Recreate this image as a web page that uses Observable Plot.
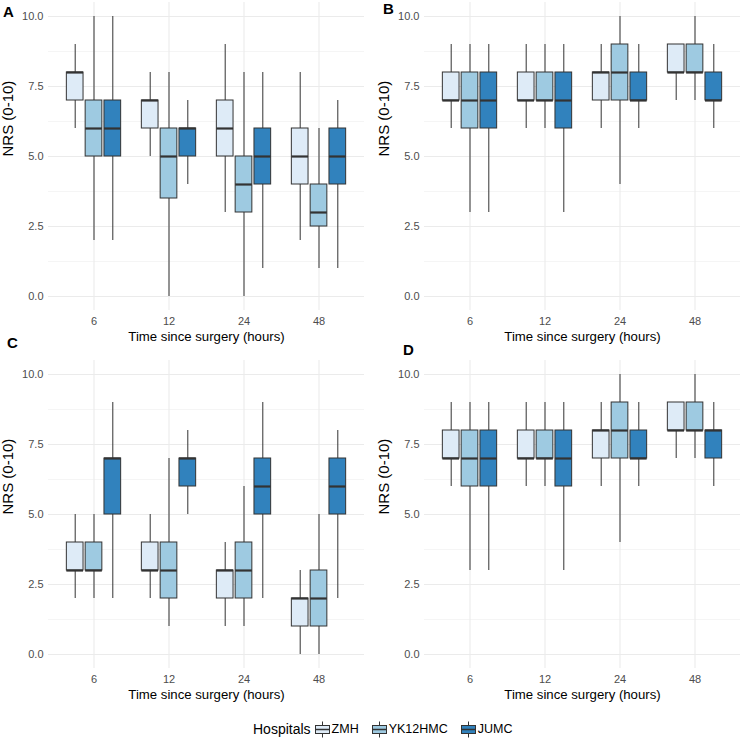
<!DOCTYPE html>
<html><head><meta charset="utf-8">
<script src="https://cdn.jsdelivr.net/npm/d3@7"></script>
<script src="https://cdn.jsdelivr.net/npm/@observablehq/plot@0.6"></script>
<style>
body{margin:0;background:#fff;font-family:"Liberation Sans",Arial,sans-serif;}
#fig{position:relative;width:740px;height:739px;overflow:hidden;background:#fff;}
.panel{position:absolute;}
.tag{position:absolute;font-weight:bold;font-size:15px;line-height:1;color:#000;}
#legend{position:absolute;left:253px;top:720px;height:18px;display:flex;align-items:center;color:#000;}
#legend .ttl{font-size:14px;margin-right:3px;}
#legend .lab{font-size:12.5px;margin-left:1px;margin-right:12px;}
</style></head><body><div id="fig"></div>
<script>
const times = ["6", "12", "24", "48"];
const hospitals = ["ZMH", "YK12HMC", "JUMC"];
const colors = ["#deebf7", "#9ecae1", "#3182bd"];
const yTicks = [0, 2.5, 5, 7.5, 10];
const yMinor = [1.25, 3.75, 6.25, 8.75];
const xTitle = "Time since surgery (hours)";
const yTitle = "NRS (0-10)";
const tags = ["A", "B", "C", "D"];

// five-number summaries [min, q1, median, q3, max], one row per time (6, 12, 24, 48 h)
const A_ZMH  = [[6, 7, 8, 8, 9], [5, 6, 7, 7, 8], [3, 5, 6, 7, 9], [2, 4, 5, 6, 8]];
const A_YK   = [[2, 5, 6, 7, 10], [0, 3.5, 5, 6, 8], [0, 3, 4, 5, 8], [1, 2.5, 3, 4, 6]];
const A_JUMC = [[2, 5, 6, 7, 10], [4, 5, 6, 6, 7], [1, 4, 5, 6, 8], [1, 4, 5, 6, 7]];

const B_ZMH  = [[6, 7, 7, 8, 9], [6, 7, 7, 8, 9], [6, 7, 8, 8, 9], [7, 8, 8, 9, 9]];
const B_YK   = [[3, 6, 7, 8, 9], [6, 7, 7, 8, 9], [4, 7, 8, 9, 10], [7, 8, 8, 9, 10]];
const B_JUMC = [[3, 6, 7, 8, 9], [3, 6, 7, 8, 9], [6, 7, 7, 8, 9], [6, 7, 7, 8, 9]];

const C_ZMH  = [[2, 3, 3, 4, 5], [2, 3, 3, 4, 5], [1, 2, 3, 3, 4], [0, 1, 2, 2, 3]];
const C_YK   = [[2, 3, 3, 4, 5], [1, 2, 3, 4, 7], [1, 2, 3, 4, 6], [0, 1, 2, 3, 5]];
const C_JUMC = [[2, 5, 7, 7, 9], [5, 6, 7, 7, 8], [2, 5, 6, 7, 9], [2, 5, 6, 7, 8]];

const D_ZMH  = [[6, 7, 7, 8, 9], [6, 7, 7, 8, 9], [6, 7, 8, 8, 9], [7, 8, 8, 9, 9]];
const D_YK   = [[3, 6, 7, 8, 9], [6, 7, 7, 8, 9], [4, 7, 8, 9, 10], [7, 8, 8, 9, 10]];
const D_JUMC = [[3, 6, 7, 8, 9], [3, 6, 7, 8, 9], [6, 7, 7, 8, 9], [6, 7, 8, 8, 9]];

const panels = [
  {series: [A_ZMH, A_YK, A_JUMC], left: 0,   top: 0,   ml: 48, mr: 6, tag: [3, 4.3]},
  {series: [B_ZMH, B_YK, B_JUMC], left: 370, top: 0,   ml: 54, mr: 0, tag: [383, 1.3]},
  {series: [C_ZMH, C_YK, C_JUMC], left: 0,   top: 358, ml: 48, mr: 6, tag: [7, 335.3]},
  {series: [D_ZMH, D_YK, D_JUMC], left: 370, top: 358, ml: 54, mr: 0, tag: [403, 342.3]}
];

function rows(stats, hospital) {
  return stats.map((s, i) => ({time: times[i], hospital, min: s[0], q1: s[1], med: s[2], q3: s[3], max: s[4]}));
}

const fig = document.getElementById("fig");
const FONT = '"Liberation Sans", Arial, sans-serif';
const DARK = "#333333";

panels.forEach((p, pi) => {
  const W = 370, H = 350, mt = 2, mb = 40;
  const plotW = W - p.ml - p.mr;
  const step = plotW / (times.length + 0.2);
  const dodge = step * 0.25, bw = step * 0.225, inset = (step - bw) / 2;
  const marks = [
    Plot.ruleY(yMinor, {stroke: "#f1f1f1", strokeWidth: 0.7}),
    Plot.ruleY(yTicks, {stroke: "#ebebeb", strokeWidth: 1.1}),
    Plot.ruleX(times, {stroke: "#ebebeb", strokeWidth: 1.1})
  ];
  p.series.forEach((stats, k) => {
    const data = rows(stats, hospitals[k]);
    const dx = (k - 1) * dodge;
    marks.push(
      Plot.ruleX(data, {x: "time", y1: "min", y2: "q1", dx, stroke: DARK, strokeWidth: 1}),
      Plot.ruleX(data, {x: "time", y1: "q3", y2: "max", dx, stroke: DARK, strokeWidth: 1}),
      Plot.barY(data, {x: "time", y1: "q1", y2: "q3", fill: "hospital", stroke: DARK, strokeWidth: 1,
                       insetLeft: inset, insetRight: inset, dx}),
      Plot.tickY(data, {x: "time", y: "med", stroke: DARK, strokeWidth: 2.2,
                        insetLeft: inset, insetRight: inset, dx})
    );
  });
  marks.push(
    Plot.text([xTitle], {text: d => d, frameAnchor: "bottom", dy: 30, fontSize: 13.2, fill: "#000"}),
    Plot.text([yTitle], {text: d => d, frameAnchor: "left", dx: -40, rotate: -90, fontSize: 15, fill: "#000"})
  );
  const svg = Plot.plot({
    width: W, height: H,
    marginTop: mt, marginBottom: mb, marginLeft: p.ml, marginRight: p.mr,
    style: {fontFamily: FONT, fontSize: "11px", color: "#4d4d4d", background: "transparent", overflow: "visible"},
    x: {type: "band", domain: times, paddingInner: 0, paddingOuter: 0.1, tickSize: 0, tickPadding: 7, label: null},
    y: {domain: [-0.5, 10.5], ticks: yTicks, tickFormat: d => d.toFixed(1), tickSize: 0, tickPadding: 5, label: null},
    color: {domain: hospitals, range: colors},
    marks
  });
  const wrap = document.createElement("div");
  wrap.className = "panel";
  wrap.style.left = p.left + "px";
  wrap.style.top = p.top + "px";
  wrap.appendChild(svg);
  fig.appendChild(wrap);
  const t = document.createElement("div");
  t.className = "tag";
  t.textContent = tags[pi];
  t.style.left = p.tag[0] + "px";
  t.style.top = p.tag[1] + "px";
  fig.appendChild(t);
});

// legend
const legend = document.createElement("div");
legend.id = "legend";
const ttl = document.createElement("span");
ttl.className = "ttl";
ttl.textContent = "Hospitals";
legend.appendChild(ttl);
hospitals.forEach((h, i) => {
  const ns = "http://www.w3.org/2000/svg";
  const s = document.createElementNS(ns, "svg");
  s.setAttribute("width", 17); s.setAttribute("height", 17);
  s.innerHTML = `<rect x="0" y="0" width="17" height="17" fill="#fff"/>
    <line x1="8.5" x2="8.5" y1="0.5" y2="16.5" stroke="${DARK}" stroke-width="1"/>
    <rect x="1.5" y="4.5" width="14" height="8" fill="${colors[i]}" stroke="${DARK}" stroke-width="1"/>
    <line x1="1.5" x2="15.5" y1="8.5" y2="8.5" stroke="${DARK}" stroke-width="1.5"/>`;
  legend.appendChild(s);
  const lab = document.createElement("span");
  lab.className = "lab";
  lab.textContent = h;
  legend.appendChild(lab);
});
fig.appendChild(legend);
</script></body></html>
